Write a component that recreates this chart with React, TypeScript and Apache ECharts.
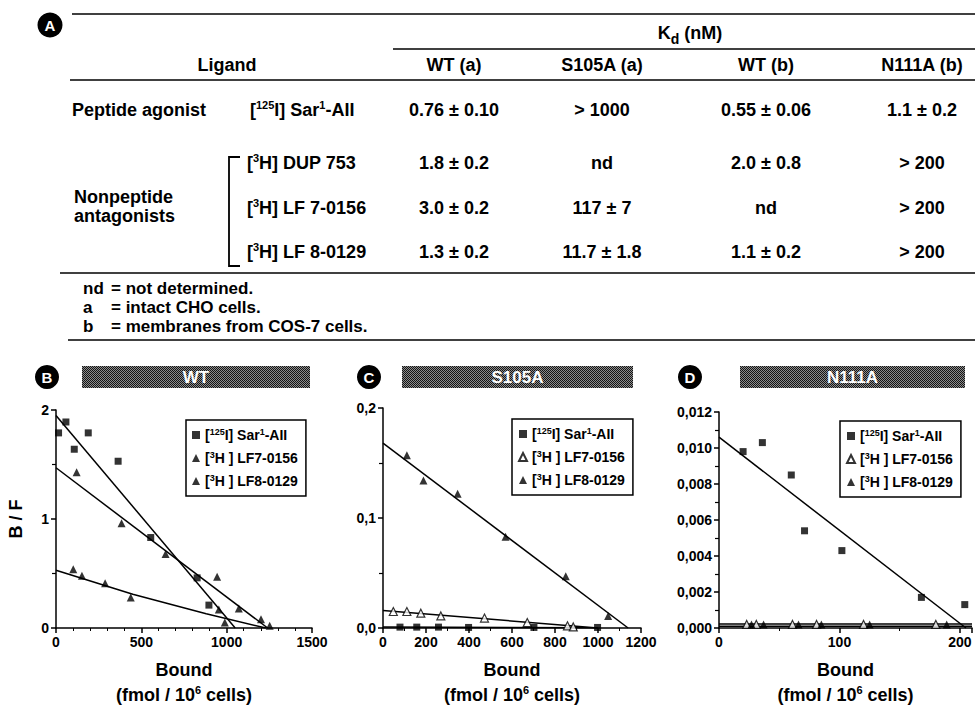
import React, { useEffect, useRef } from 'react';
import * as echarts from 'echarts';

// ---------- Table data (panel A) ----------
const kdColumns = ['WT (a)', 'S105A (a)', 'WT (b)', 'N111A (b)'];
const ligandNames = [
  '[{sup|125}I] Sar{sup|1}-AII',
  '[{sup|3}H] DUP 753',
  '[{sup|3}H] LF 7-0156',
  '[{sup|3}H] LF 8-0129',
];
const kdValues = [
  ['0.76 ± 0.10', '> 1000', '0.55 ± 0.06', '1.1 ± 0.2'],
  ['1.8 ± 0.2', 'nd', '2.0 ± 0.8', '> 200'],
  ['3.0 ± 0.2', '117 ± 7', 'nd', '> 200'],
  ['1.3 ± 0.2', '11.7 ± 1.8', '1.1 ± 0.2', '> 200'],
];
const footnoteKeys = ['nd', 'a', 'b'];
const footnoteTexts = ['= not determined.', '= intact CHO cells.', '= membranes from COS-7 cells.'];

// ---------- Panel titles ----------
const panelLetters = ['B', 'C', 'D'];
const panelTitles = ['WT', 'S105A', 'N111A'];
const legendLabels: Record<string, string> = {
  sar: '[{sup|125}I] Sar{sup|1}-AII',
  lf7: '[{sup|3}H ] LF7-0156',
  lf8: '[{sup|3}H ] LF8-0129',
};

// ---------- Panel B (WT) ----------
const sarB = [[15, 1.79], [58, 1.89], [107, 1.64], [189, 1.79], [364, 1.53], [555, 0.83], [827, 0.46], [896, 0.21]];
const lf7B = [[121, 1.43], [384, 0.96], [642, 0.68], [944, 0.47], [1071, 0.18], [1201, 0.08], [1252, 0.02]];
const lf8B = [[101, 0.54], [152, 0.48], [288, 0.41], [438, 0.28], [954, 0.17], [989, 0.05]];
const fitSarB = [[0, 1.95], [1050, 0]];
const fitLf7B = [[0, 1.47], [1240, 0]];
const fitLf8B = [[0, 0.53], [450, 0.31], [880, 0.13], [1230, 0]];

// ---------- Panel C (S105A) ----------
const sarC = [[79, 0.0008], [157, 0.0008], [258, 0.0008], [398, 0.0005], [702, 0.0005], [998, 0.0005]];
const lf7C = [[48, 0.015], [111, 0.015], [176, 0.0135], [269, 0.011], [472, 0.009], [671, 0.005], [858, 0.002], [885, 0.001]];
const lf8C = [[111, 0.157], [188, 0.134], [347, 0.122], [570, 0.083], [850, 0.047], [1047, 0.011]];
const fitSarC = [[0, 0.0008], [1000, 0.0003]];
const fitLf7C = [[0, 0.016], [1000, 0]];
const fitLf8C = [[0, 0.168], [1140, 0]];

// ---------- Panel D (N111A) ----------
const sarD = [[20, 0.0098], [36, 0.0103], [60, 0.0085], [71, 0.0054], [102, 0.0043], [168, 0.0017], [204, 0.0013]];
const lf7D = [[23, 0.0002], [31, 0.0002], [61, 0.0002], [81, 0.0002], [120, 0.0002], [180, 0.0002]];
const lf8D = [[27, 0.0002], [37, 0.0002], [66, 0.0002], [85, 0.0002], [125, 0.0002], [189, 0.0002]];
const fitSarD = [[0, 0.0106], [205, 0]];
const fitLf7D = [[0, 0.00022], [210, 0.00022]];
const fitLf8D = [[0, 0.0001], [210, 0.0001]];

// ---------- Axis ranges ----------
const xRanges = [
  { min: 0, max: 1500, interval: 500, minor: 5 },
  { min: 0, max: 1200, interval: 200, minor: 2 },
  { min: 0, max: 210, interval: 100, minor: 2 },
];
const yRanges = [
  { min: 0, max: 2, interval: 1, minor: 2, digits: 0 },
  { min: 0, max: 0.2, interval: 0.1, minor: 2, digits: 1 },
  { min: 0, max: 0.012, interval: 0.002, minor: 2, digits: 3 },
];

const FONT = '"Liberation Sans", Arial, Helvetica, sans-serif';

function makePattern() {
  const c = document.createElement('canvas');
  c.width = 4;
  c.height = 4;
  const ctx = c.getContext('2d')!;
  ctx.fillStyle = '#8c8c8c';
  ctx.fillRect(0, 0, 4, 4);
  ctx.fillStyle = '#141414';
  for (let y = 0; y < 4; y++) for (let x = 0; x < 4; x++) if ((x + y) % 2 === 0) ctx.fillRect(x, y, 1, 1);
  return c;
}

function txt(x: number, y: number, text: string, opts: any = {}) {
  const align = opts.align || 'left';
  const size = opts.size || 18;
  const supSize = Math.round(size * 0.62);
  return {
    type: 'text',
    x,
    y,
    z: 10,
    style: {
      text,
      fill: opts.fill || '#000',
      font: `bold ${size}px ${FONT}`,
      fontSize: size,
      fontWeight: 'bold',
      fontFamily: FONT,
      textAlign: align,
      align,
      textVerticalAlign: 'middle',
      verticalAlign: 'middle',
      lineHeight: opts.lineHeight || 26,
      rich: {
        sup: { fontSize: supSize, fontWeight: 'bold', fontFamily: FONT, verticalAlign: 'top', lineHeight: supSize, padding: [2, 0, 0, 0], fill: '#000' },
        sub: { fontSize: Math.round(size * 0.75), fontWeight: 'bold', fontFamily: FONT, verticalAlign: 'bottom', lineHeight: 20, fill: '#000' },
      },
    },
  };
}

function hline(x1: number, x2: number, y: number, w = 1.6) {
  return { type: 'line', z: 10, shape: { x1, y1: y, x2, y2: y }, style: { stroke: '#000', lineWidth: w } };
}

function buildOption() {
  const pattern = makePattern();
  const g: any[] = [];

  // Panel A circle
  g.push({ type: 'circle', z: 10, shape: { cx: 50, cy: 25, r: 12.5 }, style: { fill: '#000' } });
  g.push(txt(50, 25, 'A', { align: 'center', size: 15, fill: '#fff', lineHeight: 16 }));

  // Table rules
  g.push(hline(72, 975, 14));
  g.push(hline(393, 975, 49));
  g.push(hline(70, 975, 80));
  g.push(hline(60, 975, 273));
  g.push(hline(68, 975, 340));

  // Headers
  const colX = [454, 602, 766, 922];
  g.push(txt(690, 33, 'K{sub|d} (nM)', { align: 'center' }));
  g.push(txt(227, 65, 'Ligand', { align: 'center' }));
  kdColumns.forEach((c, i) => g.push(txt(colX[i], 65, c, { align: 'center' })));

  // Rows
  const rowY = [110, 163, 208, 252];
  g.push(txt(72, rowY[0], 'Peptide agonist'));
  g.push(txt(74, 197, 'Nonpeptide', { lineHeight: 18 }));
  g.push(txt(74, 216, 'antagonists', { lineHeight: 18 }));
  ligandNames.forEach((n, i) => g.push(txt(i === 0 ? 250 : 247, rowY[i], n)));
  kdValues.forEach((row, r) => row.forEach((v, c) => g.push(txt(colX[c], rowY[r], v, { align: 'center' }))));

  // Bracket
  g.push({
    type: 'polyline', z: 10,
    shape: { points: [[240, 157], [229, 157], [229, 266], [240, 266]] },
    style: { stroke: '#000', lineWidth: 1.8, fill: 'none' },
  });

  // Footnotes
  const footY = [288, 307, 326];
  footnoteKeys.forEach((k, i) => {
    g.push(txt(83, footY[i], k, { lineHeight: 18, size: 17 }));
    g.push(txt(111, footY[i], footnoteTexts[i], { lineHeight: 18, size: 17 }));
  });

  // Panel headers: circles + banners
  const circleX = [47, 369, 690];
  const bannerX = [[82, 310], [402, 633], [740, 965]];
  panelLetters.forEach((L, i) => {
    g.push({ type: 'circle', z: 10, shape: { cx: circleX[i], cy: 377, r: 12 }, style: { fill: '#000' } });
    g.push(txt(circleX[i], 377, L, { align: 'center', size: 15, fill: '#fff', lineHeight: 16 }));
    g.push({
      type: 'rect', z: 9,
      shape: { x: bannerX[i][0], y: 366, width: bannerX[i][1] - bannerX[i][0], height: 22 },
      style: { fill: { image: pattern, repeat: 'repeat', imageWidth: 4, imageHeight: 4 } },
    });
    g.push(txt((bannerX[i][0] + bannerX[i][1]) / 2, 377, panelTitles[i], { align: 'center', size: 17, fill: '#fff', lineHeight: 18 }));
  });

  const grids = [
    { left: 56, top: 410, width: 256, height: 221 },
    { left: 383, top: 408, width: 258, height: 222 },
    { left: 719, top: 412, width: 258, height: 220 },
  ];

  const nameStyle = {
    fontSize: 18, fontWeight: 'bold', color: '#000', fontFamily: FONT, lineHeight: 25,
    rich: { sup: { fontSize: 11, fontWeight: 'bold', color: '#000', fontFamily: FONT, verticalAlign: 'top', lineHeight: 11, padding: [2, 0, 0, 0] } },
  };

  const xAxis = xRanges.map((r, i) => ({
    type: 'value', gridIndex: i, min: r.min, max: r.max, interval: r.interval,
    axisLine: { show: true, onZero: false, lineStyle: { color: '#000', width: 1.5 } },
    axisTick: { show: true, length: 5, lineStyle: { color: '#000', width: 1.5 } },
    minorTick: { show: true, splitNumber: r.minor, length: 3, lineStyle: { color: '#000', width: 1 } },
    splitLine: { show: false },
    minorSplitLine: { show: false },
    axisLabel: {
      color: '#000', fontSize: 14, fontWeight: 'bold', fontFamily: FONT, margin: 7,
      formatter: (v: number) => (Math.abs(v % r.interval) < 1e-9 ? String(v) : ''),
    },
    name: 'Bound\n(fmol / 10{sup|6} cells)',
    nameLocation: 'middle',
    nameGap: 29,
    nameTextStyle: nameStyle,
  }));

  const yAxis = yRanges.map((r, i) => ({
    type: 'value', gridIndex: i, min: r.min, max: r.max, interval: r.interval,
    axisLine: { show: true, onZero: false, lineStyle: { color: '#000', width: 1.5 } },
    axisTick: { show: true, length: 5, lineStyle: { color: '#000', width: 1.5 } },
    minorTick: { show: true, splitNumber: r.minor, length: 4, lineStyle: { color: '#000', width: 1.2 } },
    splitLine: { show: false },
    minorSplitLine: { show: false },
    axisLabel: {
      color: '#000', fontSize: 14, fontWeight: 'bold', fontFamily: FONT, margin: 7,
      formatter: (v: number) => v.toFixed(r.digits).replace('.', ','),
    },
    name: i === 0 ? 'B / F' : '',
    nameLocation: 'middle',
    nameRotate: 90,
    nameGap: 30,
    nameTextStyle: { ...nameStyle, lineHeight: 20 },
  }));

  const panelData = [
    { sar: sarB, lf7: lf7B, lf8: lf8B, fits: [fitSarB, fitLf7B, fitLf8B], lf7Open: false },
    { sar: sarC, lf7: lf7C, lf8: lf8C, fits: [fitSarC, fitLf7C, fitLf8C], lf7Open: true },
    { sar: sarD, lf7: lf7D, lf8: lf8D, fits: [fitSarD, fitLf7D, fitLf8D], lf7Open: true },
  ];

  const series: any[] = [];
  panelData.forEach((p, i) => {
    p.fits.forEach((f) =>
      series.push({
        type: 'line', xAxisIndex: i, yAxisIndex: i, data: f, symbol: 'none', showSymbol: false,
        lineStyle: { color: '#000', width: 1.5 }, silent: true, z: 3,
      })
    );
    series.push({
      type: 'scatter', name: `${i}|sar`, xAxisIndex: i, yAxisIndex: i, data: p.sar,
      symbol: 'rect', symbolSize: 7, itemStyle: { color: '#000' }, z: 5,
    });
    series.push({
      type: 'scatter', name: `${i}|lf7`, xAxisIndex: i, yAxisIndex: i, data: p.lf7,
      symbol: 'triangle', symbolSize: 8,
      itemStyle: p.lf7Open ? { color: '#fff', borderColor: '#000', borderWidth: 1.2 } : { color: '#000' }, z: 5,
    });
    series.push({
      type: 'scatter', name: `${i}|lf8`, xAxisIndex: i, yAxisIndex: i, data: p.lf8,
      symbol: 'triangle', symbolSize: 8, itemStyle: { color: '#000' }, z: 5,
    });
  });

  const legendPos = [
    { left: 186, top: 420 },
    { left: 512, top: 419 },
    { left: 840, top: 421 },
  ];
  const legend = legendPos.map((pos, i) => ({
    ...pos,
    orient: 'vertical',
    data: [`${i}|sar`, `${i}|lf7`, `${i}|lf8`],
    itemWidth: 8, itemHeight: 8, itemGap: 5,
    padding: [6, 8, 6, 6],
    borderColor: '#000', borderWidth: 1.5, backgroundColor: '#fff',
    selectedMode: false,
    textStyle: {
      color: '#000', fontSize: 14, fontWeight: 'bold', fontFamily: FONT, lineHeight: 18,
      rich: { sup: { fontSize: 9, fontWeight: 'bold', color: '#000', fontFamily: FONT, verticalAlign: 'top', lineHeight: 9, padding: [1, 0, 0, 0] } },
    },
    formatter: (n: string) => legendLabels[n.split('|')[1]],
  }));

  return {
    animation: false,
    backgroundColor: '#fff',
    textStyle: { fontFamily: FONT },
    grid: grids,
    xAxis,
    yAxis,
    legend,
    series,
    graphic: { elements: g },
  };
}

export default function App() {
  const ref = useRef<HTMLDivElement>(null);
  useEffect(() => {
    document.body.style.margin = '0';
    const chart = echarts.init(ref.current!, null, { renderer: 'svg' });
    chart.setOption(buildOption() as any);
    return () => chart.dispose();
  }, []);
  return <div ref={ref} style={{ width: 975, height: 708, background: '#fff' }} />;
}
